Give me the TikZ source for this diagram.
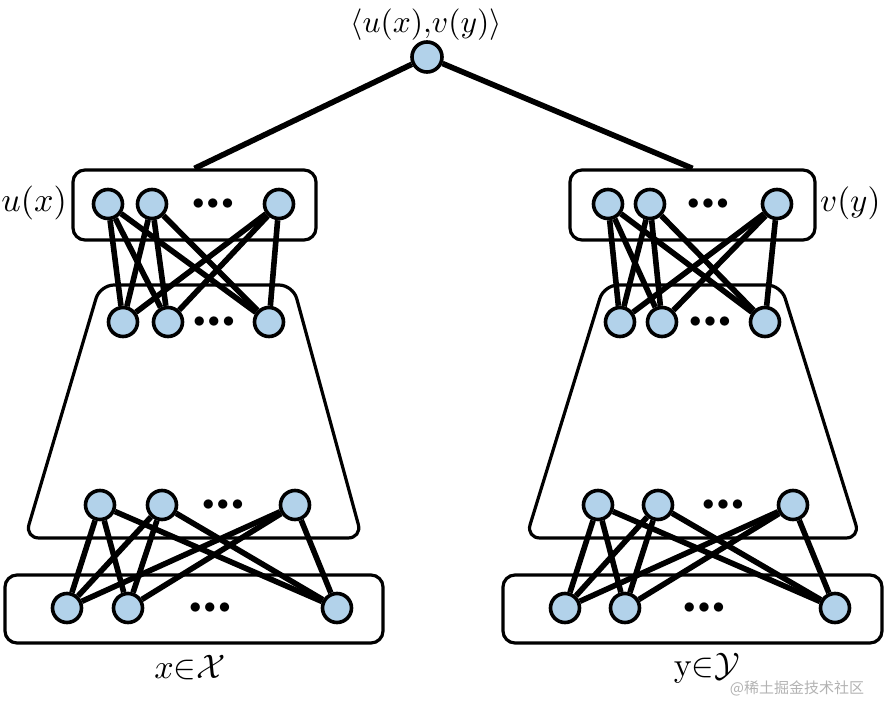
\documentclass[tikz,border=0pt]{standalone}
\usepackage{fontspec}
\newfontfamily\cjk{Noto Sans CJK SC}
\usetikzlibrary{backgrounds}
\definecolor{nblue}{RGB}{178,210,234}
\begin{document}
\begin{tikzpicture}[x=1pt,y=-1pt,
  neuron/.style={circle, draw=black, line width=3.6pt, fill=nblue, minimum size=29pt, inner sep=0pt},
  layerbox/.style={draw=black, line width=3.2pt, rounded corners=12pt, inner sep=0pt},
  conn/.style={line width=5.6pt},
  dotsn/.style={inner sep=0pt},
  lbl/.style={inner sep=0pt}]
\useasboundingbox (0,0) rectangle (884,704);

\newcommand\mydots{\scalebox{2.4}{$\bullet\mkern-2mu\bullet\mkern-2mu\bullet$}}

% ---------- top ----------
\node[neuron, minimum size=30pt] (top) at (427,57) {};
\node[lbl] (toplbl) at (426,25) {\scalebox{3.15}{$\langle u(x),\!v(y)\rangle$}};

% ---------- left tower ----------
\node[layerbox, minimum width=243pt, minimum height=70pt] (boxLu) at (194.5,205) {};
\node[layerbox, minimum width=378pt, minimum height=68pt] (boxLd) at (194,609) {};
\draw[line width=3.2pt, rounded corners=14pt] (100,285) -- (293,285) -- (362,538) -- (25,538) -- cycle;

\node[neuron] (la1) at (108,204) {};
\node[neuron] (la2) at (152,204) {};
\node[dotsn]  (lad) at (213,204) {\mydots};
\node[neuron] (la3) at (279,204) {};

\node[neuron] (lb1) at (123,322) {};
\node[neuron] (lb2) at (168,322) {};
\node[dotsn]  (lbd) at (214,322) {\mydots};
\node[neuron] (lb3) at (269,322) {};

\node[neuron] (lc1) at (100,505) {};
\node[neuron] (lc2) at (162,505) {};
\node[dotsn]  (lcd) at (223,505) {\mydots};
\node[neuron] (lc3) at (295,505) {};

\node[neuron] (ld1) at (67,608) {};
\node[neuron] (ld2) at (128,608) {};
\node[dotsn]  (ldd) at (210,608) {\mydots};
\node[neuron] (ld3) at (337,608) {};

\node[lbl, anchor=east] (ux) at (67,203) {\scalebox{3.4}{$u(x)$}};
\node[lbl] (xin) at (190,668) {\scalebox{3.4}{$x{\in}\mathcal{X}$}};

% ---------- right tower ----------
\node[layerbox, minimum width=245pt, minimum height=70pt] (boxRu) at (692.5,205) {};
\node[layerbox, minimum width=379pt, minimum height=68pt] (boxRd) at (692.5,609) {};
\draw[line width=3.2pt, rounded corners=14pt] (604,285) -- (781,285) -- (860,538) -- (526,538) -- cycle;

\node[neuron] (ra1) at (608,204) {};
\node[neuron] (ra2) at (650,204) {};
\node[dotsn]  (rad) at (708,204) {\mydots};
\node[neuron] (ra3) at (777,204) {};

\node[neuron] (rb1) at (620,322) {};
\node[neuron] (rb2) at (662,322) {};
\node[dotsn]  (rbd) at (710,322) {\mydots};
\node[neuron] (rb3) at (765,322) {};

\node[neuron] (rc1) at (598,505) {};
\node[neuron] (rc2) at (658,505) {};
\node[dotsn]  (rcd) at (723,505) {\mydots};
\node[neuron] (rc3) at (793,505) {};

\node[neuron] (rd1) at (565,608) {};
\node[neuron] (rd2) at (625,608) {};
\node[dotsn]  (rdd) at (704,608) {\mydots};
\node[neuron] (rd3) at (835,608) {};

\node[lbl, anchor=west] (vy) at (820,203) {\scalebox{3.3}{$v(y)$}};
\node[lbl] (yin) at (707,668) {\scalebox{3.4}{$\mathrm{y}{\in}\mathcal{Y}$}};

\node[inner sep=0pt, text=black!30, font=\cjk\fontsize{15}{15}\selectfont] (wm) at (797,688) {@稀土掘金技术社区};

% ---------- connectors ----------
\begin{pgfonlayer}{background}
\draw[conn] (top) -- (boxLu.north);
\draw[conn] (top) -- (boxRu.north);
\foreach \s in {l,r}{
  \foreach \i in {1,2,3}{
    \foreach \j in {1,2,3}{
      \draw[conn] (\s a\i) -- (\s b\j);
      \draw[conn] (\s c\i) -- (\s d\j);
    }
  }
}
\end{pgfonlayer}
\end{tikzpicture}
\end{document}
